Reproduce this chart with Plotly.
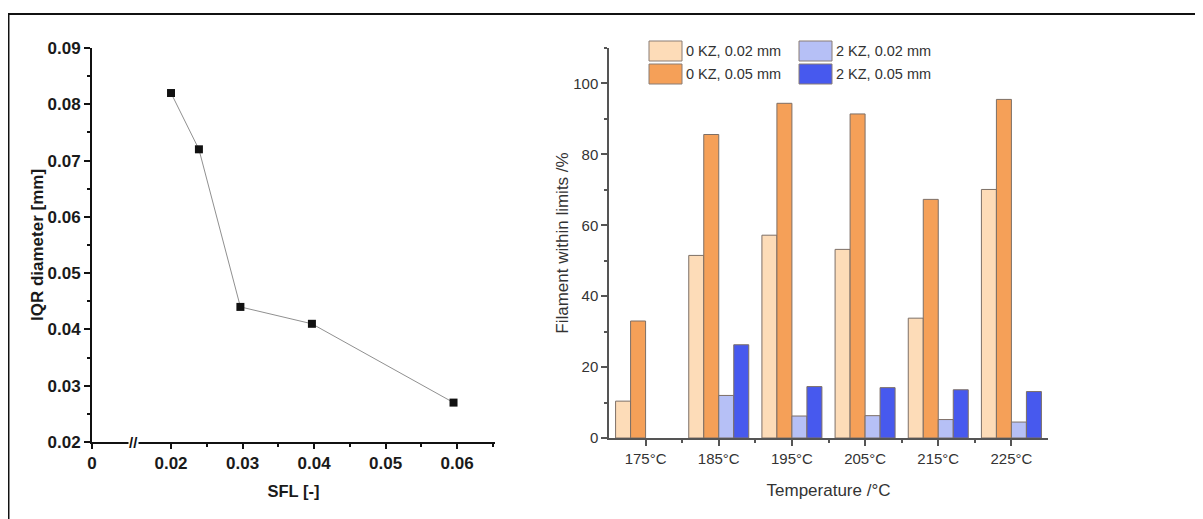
import plotly.graph_objects as go

# ---- Left chart data ----
sfl = [0.02, 0.0239, 0.0297, 0.0397, 0.0595]
iqr = [0.082, 0.072, 0.044, 0.041, 0.027]
left_xticks = [0.00895, 0.02, 0.03, 0.04, 0.05, 0.06]
left_xticktext = ["0", "0.02", "0.03", "0.04", "0.05", "0.06"]

# ---- Right chart data ----
temps = ["175°C", "185°C", "195°C", "205°C", "215°C", "225°C"]
series_names = ["0 KZ, 0.02 mm", "0 KZ, 0.05 mm", "2 KZ, 0.02 mm", "2 KZ, 0.05 mm"]
kz0_002 = [10.4, 51.5, 57.2, 53.2, 33.8, 70.1]
kz0_005 = [33.0, 85.6, 94.4, 91.4, 67.3, 95.5]
kz2_002 = [None, 12.0, 6.2, 6.3, 5.2, 4.5]
kz2_005 = [None, 26.3, 14.5, 14.2, 13.6, 13.1]
series_values = [kz0_002, kz0_005, kz2_002, kz2_005]
series_colors = ["#FDDCB8", "#F5A058", "#B6C0F6", "#4759EE"]

W, H = 1203, 519
OFF = 8  # page body margin offset
def px_x(p): return (p - OFF) / W
def px_y(p): return 1 - (p - OFF) / H

fig = go.Figure()

fig.add_trace(go.Scatter(
    x=sfl, y=iqr, mode="lines+markers",
    line=dict(color="#909090", width=1),
    marker=dict(symbol="square", size=8, color="#111111"),
    xaxis="x", yaxis="y", showlegend=False))

xidx = list(range(len(temps)))
for name, vals, col in zip(series_names, series_values, series_colors):
    fig.add_trace(go.Bar(
        x=xidx, y=vals, name=name, marker=dict(color=col, line=dict(color="#7d6f66", width=1)),
        xaxis="x2", yaxis="y2", showlegend=False))

bold_font = dict(family="Liberation Sans, Arial", size=17, color="#1a1a1a", weight="bold")
reg_font = dict(family="Liberation Sans, Arial", size=15, color="#333333")

fig.update_layout(
    width=W, height=H, margin=dict(l=0, r=0, t=0, b=0, autoexpand=False),
    paper_bgcolor="white", plot_bgcolor="white",
    barmode="group", bargap=0.18, bargroupgap=0,
    xaxis=dict(domain=[px_x(92), px_x(495)], range=[0.00895, 0.0653], automargin=False,
               tickmode="array", tickvals=left_xticks, ticktext=left_xticktext,
               showline=True, linecolor="#111111", linewidth=2, ticks="outside",
               ticklen=5, tickwidth=2, tickcolor="#111111", showgrid=False, zeroline=False,
               tickfont=bold_font,
               minor=dict(tickmode="array", tickvals=[0.025, 0.035, 0.045, 0.055, 0.065],
                          ticks="outside", ticklen=3, tickcolor="#111111", tickwidth=2),
               title=dict(text="SFL [-]", font=dict(family="Liberation Sans, Arial", size=16.5,
                                                    color="#1a1a1a", weight="bold"), standoff=13),
               anchor="y"),
    yaxis=dict(domain=[px_y(442), px_y(48)], range=[0.02, 0.09], dtick=0.01, tickformat=".2f",
               automargin=False,
               showline=True, linecolor="#111111", linewidth=2, ticks="outside",
               ticklen=6, tickwidth=2, tickcolor="#111111", showgrid=False, zeroline=False,
               tickfont=bold_font,
               minor=dict(dtick=0.005, ticks="outside", ticklen=3, tickcolor="#111111", tickwidth=2),
               title=dict(text="IQR diameter [mm]", font=dict(family="Liberation Sans, Arial", size=17,
                                                             color="#1a1a1a", weight="bold"), standoff=0),
               anchor="x"),
    xaxis2=dict(domain=[px_x(609), px_x(1048)], range=[-0.5, 5.5], automargin=False,
                tickmode="array", tickvals=xidx, ticktext=temps,
                showline=True, linecolor="#555555", linewidth=1.5, ticks="outside",
                ticklen=6, tickwidth=1.5, tickcolor="#555555", showgrid=False, zeroline=False,
                tickfont=reg_font,
                minor=dict(tickmode="array", tickvals=[0.5, 1.5, 2.5, 3.5, 4.5],
                           ticks="outside", ticklen=3, tickcolor="#555555", tickwidth=1.5),
                title=dict(text="Temperature /°C", font=dict(family="Liberation Sans, Arial", size=17,
                                                             color="#333333"), standoff=18),
                anchor="y2"),
    yaxis2=dict(domain=[px_y(438), px_y(48)], range=[0, 110], tickvals=[0, 20, 40, 60, 80, 100],
                automargin=False,
                showline=True, linecolor="#555555", linewidth=1.5, ticks="outside",
                ticklen=6, tickwidth=1.5, tickcolor="#555555", showgrid=False, zeroline=False,
                tickfont=reg_font,
                minor=dict(dtick=10, ticks="outside", ticklen=3, tickcolor="#555555", tickwidth=1.5),
                title=dict(text="Filament within limits /%", font=dict(family="Liberation Sans, Arial",
                                                                      size=17, color="#333333"), standoff=0),
                anchor="x2"),
)

shapes = [
    # outer frame (top and left edges)
    dict(type="line", xref="paper", yref="paper", x0=0.0, x1=1, y0=px_y(14), y1=px_y(14),
         line=dict(color="#111111", width=2)),
    dict(type="line", xref="paper", yref="paper", x0=0.0004, x1=0.0004, y0=0, y1=px_y(14),
         line=dict(color="#111111", width=2)),
]
annotations = [
    dict(text="<b>//</b>", x=0.0147, y=0.02, xref="x", yref="y", showarrow=False,
         font=dict(family="Liberation Sans, Arial", size=15, color="#111111"), bgcolor="white",
         borderpad=0),
]

# custom legend (2 columns)
leg_pos = [(649, 41), (649, 64), (799, 41), (799, 64)]
for (lx, ly), name, col in zip(leg_pos, series_names, series_colors):
    shapes.append(dict(type="rect", xref="paper", yref="paper",
                       x0=px_x(lx), x1=px_x(lx + 33), y0=px_y(ly + 20), y1=px_y(ly),
                       fillcolor=col, line=dict(color="#8a7d74", width=1)))
    annotations.append(dict(text=name, x=px_x(lx + 35), y=px_y(ly + 10), xref="paper", yref="paper",
                            xanchor="left", yanchor="middle", showarrow=False,
                            font=dict(family="Liberation Sans, Arial", size=14.5, color="#333333")))

fig.update_layout(shapes=shapes, annotations=annotations)

fig.write_html("out.html")
